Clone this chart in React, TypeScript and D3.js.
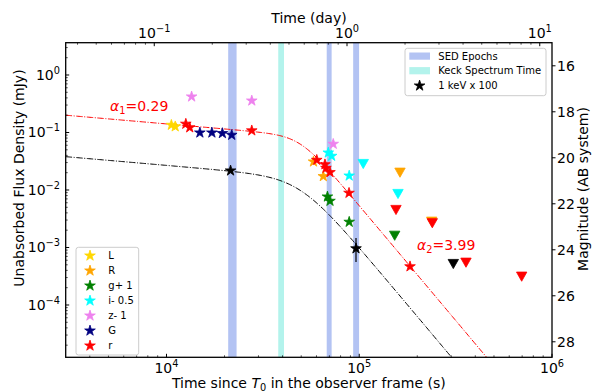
import React from 'react';
import * as d3 from 'd3';

// ---------- data ----------
const L_t = [10600, 11100];
const L_f = [0.135, 0.127];
const R_t = [57900, 65100];
const R_f = [0.0311, 0.0173];
const R_lim_t = [162700, 237600];
const R_lim_f = [0.02, 0.00281];
const g_t = [68400, 70500, 88700];
const g_f = [0.00765, 0.00644, 0.00278];
const g_lim_t = [152700];
const g_lim_f = [0.0016];
const i_t = [69100, 71900, 88700];
const i_f = [0.0445, 0.039, 0.0177];
const i_lim_t = [104900, 158900];
const i_lim_f = [0.0283, 0.00852];
const z_t = [13500, 27700, 73300];
const z_f = [0.42, 0.357, 0.0631];
const G_t = [14900, 17200, 19500, 21800];
const G_f = [0.0992, 0.0992, 0.0969, 0.0905];
const r_t = [12600, 13200, 27700, 60200, 66400, 67200, 70500, 88500, 183400];
const r_f = [0.141, 0.122, 0.108, 0.0332, 0.0278, 0.0241, 0.0203, 0.00887, 0.000467];
const r_lim_t = [155100, 239300, 357900, 696100];
const r_lim_f = [0.00449, 0.00264, 0.000544, 0.000311];
const xray_t = [21500, 96200];
const xray_f = [0.0217, 0.00096];
const xray_lo = [0.0217, 0.00056];
const xray_hi = [0.0217, 0.00146];
const xray_lim_t = [307600];
const xray_lim_f = [0.000516];

const sedEpochs = [[20900, 23100], [67800, 71900], [93000, 99800]];
const keckEpochs = [[38000, 40700]];

// model (smoothly broken power law) parameters
const alpha1 = 0.29;
const alpha2 = 3.99;
const optModel = { tb: 49430, Fb: 0.0887, s: 2 };
const xrayModel = { tb: 49300, Fb: 0.01687, s: 1.3 };

const bottomTicks = [1e4, 1e5, 1e6];
const bottomTickLabels = ['4', '5', '6'];
const leftTicks = [1e-4, 1e-3, 1e-2, 1e-1, 1];
const leftTickLabels = ['\u22124', '\u22123', '\u22122', '\u22121', '0'];
const topTicksDay = [0.1, 1, 10];
const topTickLabels = ['\u22121', '0', '1'];
const magTicks = [16, 18, 20, 22, 24, 26, 28];

const legendBands = ['L', 'R', 'g+ 1', 'i- 0.5', 'z- 1', 'G', 'r'];
const legendColors = ['gold', 'orange', 'green', 'cyan', 'violet', 'navy', 'red'];

// ---------- layout ----------
const W = 592, H = 392;
const X0 = 65.7, X1 = 552, Y0 = 42.7, Y1 = 357.3;
const FONT = 'DejaVu Sans';

function starPath(R: number) {
  const p: string[] = [];
  for (let k = 0; k < 10; k++) {
    const r = k % 2 ? R * 0.382 : R;
    const a = -Math.PI / 2 + (k * Math.PI) / 5;
    p.push(`${(r * Math.cos(a)).toFixed(2)},${(r * Math.sin(a)).toFixed(2)}`);
  }
  return 'M' + p.join('L') + 'Z';
}
const STAR = starPath(5.6);
const TRI = 'M-5.2,-4.6L5.2,-4.6L0,4.6Z';

function sbpl(t: number, m: { tb: number; Fb: number; s: number }) {
  const x = t / m.tb;
  return m.Fb * Math.pow(Math.pow(x, m.s * alpha1) + Math.pow(x, m.s * alpha2), -1 / m.s);
}

export default function App() {
  const x = d3.scaleLog().domain([3000, 1e6]).range([X0, X1]);
  const y = d3.scaleLog().domain([1.231e-5, 3.645]).range([Y1, Y0]);
  const magY = (m: number) => y(Math.pow(10, (16.4 - m) / 2.5));

  const tGrid = d3.range(0, 401).map((k) => Math.pow(10, Math.log10(3000) + (k / 400) * (6 - Math.log10(3000))));
  const line = d3
    .line<number>()
    .x((t) => x(t))
    .y((t) => y(Math.max(1e-7, 0)));
  const mkLine = (m: any) =>
    d3
      .line<number>()
      .x((t) => x(t))
      .y((t) => y(sbpl(t, m)))(tGrid) as string;

  // minor ticks
  const leftMinor: number[] = [];
  for (let e = -5; e <= 0; e++) for (let k = 2; k <= 9; k++) {
    const v = k * Math.pow(10, e);
    if (v > 1.231e-5 && v < 3.645) leftMinor.push(v);
  }
  const bottomMinor: number[] = [];
  for (let e = 3; e <= 5; e++) for (let k = 2; k <= 9; k++) {
    const v = k * Math.pow(10, e);
    if (v > 3000 && v < 1e6) bottomMinor.push(v);
  }
  const topMinor: number[] = [];
  for (let e = -2; e <= 1; e++) for (let k = 2; k <= 9; k++) {
    const v = k * Math.pow(10, e);
    if (v * 86400 > 3000 && v * 86400 < 1e6) topMinor.push(v);
  }

  const stars = (ts: number[], fs: number[], color: string, key: string) =>
    ts.map((t, k) => (
      <path key={key + k} d={STAR} transform={`translate(${x(t)},${y(fs[k])})`} fill={color} stroke={color} strokeWidth={0.8} />
    ));
  const tris = (ts: number[], fs: number[], color: string, key: string) =>
    ts.map((t, k) => (
      <path key={key + k} d={TRI} transform={`translate(${x(t)},${y(fs[k])})`} fill={color} stroke={color} strokeWidth={0.8} />
    ));

  return (
    <svg width={W} height={H} style={{ position: 'absolute', left: 0, top: 0, background: 'white' }} fontFamily={FONT}>
      <defs>
        <clipPath id="plot">
          <rect x={X0} y={Y0} width={X1 - X0} height={Y1 - Y0} />
        </clipPath>
      </defs>
      <rect x={0} y={0} width={W} height={H} fill="white" />
      <g clipPath="url(#plot)">
        {sedEpochs.map(([a, b], k) => (
          <rect key={'s' + k} x={x(a)} y={Y0} width={x(b) - x(a)} height={Y1 - Y0} fill="royalblue" fillOpacity={0.4} />
        ))}
        {keckEpochs.map(([a, b], k) => (
          <rect key={'k' + k} x={x(a)} y={Y0} width={x(b) - x(a)} height={Y1 - Y0} fill="turquoise" fillOpacity={0.4} />
        ))}
        <path d={mkLine(optModel)} fill="none" stroke="red" strokeWidth={1} strokeDasharray="6.4,1.6,1,1.6" />
        <path d={mkLine(xrayModel)} fill="none" stroke="black" strokeWidth={1} strokeDasharray="6.4,1.6,1,1.6" />
        {stars(L_t, L_f, 'gold', 'L')}
        {stars(R_t, R_f, 'orange', 'R')}
        {tris(R_lim_t, R_lim_f, 'orange', 'Rl')}
        {stars(g_t, g_f, 'green', 'g')}
        {tris(g_lim_t, g_lim_f, 'green', 'gl')}
        {stars(i_t, i_f, 'cyan', 'i')}
        {tris(i_lim_t, i_lim_f, 'cyan', 'il')}
        {stars(z_t, z_f, 'violet', 'z')}
        {stars(G_t, G_f, 'navy', 'G')}
        {stars(r_t, r_f, 'red', 'r')}
        {tris(r_lim_t, r_lim_f, 'red', 'rl')}
        {xray_t.map((t, k) => (
          <line key={'e' + k} x1={x(t)} x2={x(t)} y1={y(xray_lo[k])} y2={y(xray_hi[k])} stroke="black" strokeWidth={1.2} />
        ))}
        {stars(xray_t, xray_f, 'black', 'x')}
        {tris(xray_lim_t, xray_lim_f, 'black', 'xl')}
      </g>

      {/* annotations */}
      <text x={110} y={111} fontSize={14} fill="red">
        <tspan fontStyle="italic">α</tspan>
        <tspan fontSize={9.8} dy={3}>1</tspan>
        <tspan dy={-3}>=0.29</tspan>
      </text>
      <text x={417} y={250} fontSize={14} fill="red">
        <tspan fontStyle="italic">α</tspan>
        <tspan fontSize={9.8} dy={3}>2</tspan>
        <tspan dy={-3}>=3.99</tspan>
      </text>

      {/* frame */}
      <rect x={X0} y={Y0} width={X1 - X0} height={Y1 - Y0} fill="none" stroke="black" strokeWidth={1.3} />

      {/* left axis */}
      {leftTicks.map((v, k) => (
        <g key={'lt' + k}>
          <line x1={X0} x2={X0 + 3.5} y1={y(v)} y2={y(v)} stroke="black" />
          <text x={60} y={y(v) + 5} fontSize={14} textAnchor="end">
            10<tspan fontSize={9.8} dy={-6}>{leftTickLabels[k]}</tspan>
          </text>
        </g>
      ))}
      {leftMinor.map((v, k) => (
        <line key={'lm' + k} x1={X0} x2={X0 + 2} y1={y(v)} y2={y(v)} stroke="black" strokeWidth={0.7} />
      ))}
      {/* bottom axis */}
      {bottomTicks.map((v, k) => (
        <g key={'bt' + k}>
          <line x1={x(v)} x2={x(v)} y1={Y1} y2={Y1 - 3.5} stroke="black" />
          <text x={x(v)} y={372.5} fontSize={14} textAnchor="middle">
            10<tspan fontSize={9.8} dy={-6}>{bottomTickLabels[k]}</tspan>
          </text>
        </g>
      ))}
      {bottomMinor.map((v, k) => (
        <line key={'bm' + k} x1={x(v)} x2={x(v)} y1={Y1} y2={Y1 - 2} stroke="black" strokeWidth={0.7} />
      ))}
      {/* top axis */}
      {topTicksDay.map((v, k) => (
        <g key={'tt' + k}>
          <line x1={x(v * 86400)} x2={x(v * 86400)} y1={Y0} y2={Y0 + 3.5} stroke="black" />
          <text x={x(v * 86400)} y={38} fontSize={14} textAnchor="middle">
            10<tspan fontSize={9.8} dy={-6}>{topTickLabels[k]}</tspan>
          </text>
        </g>
      ))}
      {topMinor.map((v, k) => (
        <line key={'tm' + k} x1={x(v * 86400)} x2={x(v * 86400)} y1={Y0} y2={Y0 + 2} stroke="black" strokeWidth={0.7} />
      ))}
      {/* right axis */}
      {magTicks.map((m, k) => (
        <g key={'rt' + k}>
          <line x1={X1} x2={X1 + 3.5} y1={magY(m)} y2={magY(m)} stroke="black" />
          <text x={557} y={magY(m) + 5.2} fontSize={14}>
            {m}
          </text>
        </g>
      ))}

      {/* axis labels */}
      <text x={308.8} y={388} fontSize={14} textAnchor="middle">
        Time since <tspan fontStyle="italic">T</tspan>
        <tspan fontSize={9.8} dy={3}>0</tspan>
        <tspan dy={-3}> in the observer frame (s)</tspan>
      </text>
      <text x={309} y={23} fontSize={14} textAnchor="middle">
        Time (day)
      </text>
      <text transform="translate(24,178) rotate(-90)" fontSize={14} textAnchor="middle">
        Unabsorbed Flux Density (mJy)
      </text>
      <text transform="translate(588,189) rotate(-90)" fontSize={14} textAnchor="middle">
        Magnitude (AB system)
      </text>

      {/* legend bottom-left */}
      <rect x={76} y={247.3} width={62.7} height={107.7} rx={2.5} fill="white" fillOpacity={0.8} stroke="#cccccc" strokeWidth={1} />
      {legendBands.map((b, k) => (
        <g key={'lg' + k}>
          <path d={STAR} transform={`translate(90,${255.7 + k * 15})`} fill={legendColors[k]} stroke={legendColors[k]} strokeWidth={0.8} />
          <text x={108.3} y={255.7 + k * 15 + 3.6} fontSize={10}>
            {b}
          </text>
        </g>
      ))}

      {/* legend top-right */}
      <rect x={405} y={48.3} width={141} height={47.4} rx={2.5} fill="white" fillOpacity={0.8} stroke="#cccccc" strokeWidth={1} />
      <rect x={409.3} y={52.5} width={20.7} height={7.2} fill="royalblue" fillOpacity={0.4} />
      <text x={438.3} y={59.6} fontSize={10}>SED Epochs</text>
      <rect x={409.3} y={67.1} width={20.7} height={7.2} fill="turquoise" fillOpacity={0.4} />
      <text x={438.3} y={74.3} fontSize={10}>Keck Spectrum Time</text>
      <path d={STAR} transform="translate(419.6,85.7)" fill="black" stroke="black" strokeWidth={0.8} />
      <text x={438.3} y={89.3} fontSize={10}>1 keV x 100</text>
    </svg>
  );
}
